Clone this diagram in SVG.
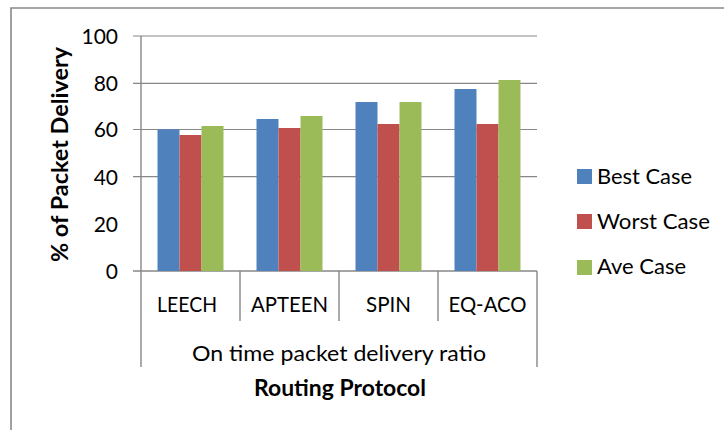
<svg xmlns="http://www.w3.org/2000/svg" width="724" height="430" viewBox="0 0 724 430">
  <style>
    .frame { fill: none; stroke: #898989; stroke-width: 1.6; }
    .grid { fill: none; stroke: #878787; stroke-width: 1.2; }
    .axis { fill: none; stroke: #878787; stroke-width: 1.4; }
    .best { fill: #4F81BD; }
    .worst { fill: #C0504D; }
    .ave { fill: #9BBB59; }
    text { font-family: Lato, "Liberation Sans", Arial, sans-serif; fill: #000; }
    .tick { font-size: 21px; text-anchor: end; }
    .cat { font-size: 22px; }
    .leg { font-size: 22px; }
    .title { font-size: 23px; font-weight: bold; }
  </style>

  <rect width="724" height="430" fill="#fff"/>

  <!-- chart frame (left and top edges) -->
  <g id="frame">
    <path class="frame" d="M11,430 V8 H724"/>
  </g>

  <!-- value gridlines and tick marks -->
  <g id="gridlines">
    <path class="grid" d="M133,36 H537"/>
    <path class="grid" d="M133,83.3 H537"/>
    <path class="grid" d="M133,129.5 H537"/>
    <path class="grid" d="M133,176.7 H537" stroke-width="2"/>
  </g>

  <!-- axes and multi-level category boxes -->
  <g id="axes">
    <path class="axis" d="M141,36 V367"/>
    <path class="axis" d="M133,271 H537"/>
    <path class="axis" d="M240,271 V321 M339,271 V321 M438,271 V321"/>
    <path class="axis" d="M537,271 V367"/>
  </g>

  <!-- value axis labels -->
  <g id="value-labels">
    <text class="tick" x="118" y="43.5">100</text>
    <text class="tick" x="118" y="90.8">80</text>
    <text class="tick" x="118" y="137">60</text>
    <text class="tick" x="118" y="184.5">40</text>
    <text class="tick" x="118" y="231.5">20</text>
    <text class="tick" x="118" y="278.5">0</text>
  </g>

  <!-- data series -->
  <g id="series-best">
    <rect class="best" x="157.5" y="129.3" width="22" height="141.7"/>
    <rect class="best" x="256.5" y="119" width="22" height="152"/>
    <rect class="best" x="355.5" y="102" width="22" height="169"/>
    <rect class="best" x="454.5" y="89" width="22" height="182"/>
  </g>
  <g id="series-worst">
    <rect class="worst" x="179.5" y="135" width="22" height="136"/>
    <rect class="worst" x="278.5" y="128" width="22" height="143"/>
    <rect class="worst" x="377.5" y="124" width="22" height="147"/>
    <rect class="worst" x="476.5" y="124" width="22" height="147"/>
  </g>
  <g id="series-ave">
    <rect class="ave" x="201.5" y="126" width="22" height="145"/>
    <rect class="ave" x="300.5" y="116" width="22" height="155"/>
    <rect class="ave" x="399.5" y="102" width="22" height="169"/>
    <rect class="ave" x="498.5" y="80" width="22" height="191"/>
  </g>

  <!-- category labels -->
  <g id="category-labels">
    <text class="cat" x="157" y="312" textLength="60" lengthAdjust="spacingAndGlyphs">LEECH</text>
    <text class="cat" x="251" y="312" textLength="77" lengthAdjust="spacingAndGlyphs">APTEEN</text>
    <text class="cat" x="366" y="312" textLength="45" lengthAdjust="spacingAndGlyphs">SPIN</text>
    <text class="cat" x="448.5" y="312" textLength="78" lengthAdjust="spacingAndGlyphs">EQ-ACO</text>
    <text class="cat" x="192" y="360.5" textLength="294" lengthAdjust="spacingAndGlyphs">On time packet delivery ratio</text>
  </g>

  <!-- axis titles -->
  <g id="axis-titles">
    <text class="title" x="254" y="396" textLength="172" lengthAdjust="spacingAndGlyphs">Routing Protocol</text>
    <text class="title" transform="translate(68,262) rotate(-90)" x="0" y="0" textLength="215" lengthAdjust="spacingAndGlyphs">% of Packet Delivery</text>
  </g>

  <!-- legend -->
  <g id="legend">
    <g id="legend-best">
      <rect class="best" x="577" y="169" width="15" height="15"/>
      <text class="leg" x="597" y="184" textLength="95" lengthAdjust="spacingAndGlyphs">Best Case</text>
    </g>
    <g id="legend-worst">
      <rect class="worst" x="577" y="214" width="15" height="15"/>
      <text class="leg" x="597" y="228.5" textLength="113" lengthAdjust="spacingAndGlyphs">Worst Case</text>
    </g>
    <g id="legend-ave">
      <rect class="ave" x="577" y="260" width="15" height="15"/>
      <text class="leg" x="597" y="273.5" textLength="89" lengthAdjust="spacingAndGlyphs">Ave Case</text>
    </g>
  </g>
</svg>
